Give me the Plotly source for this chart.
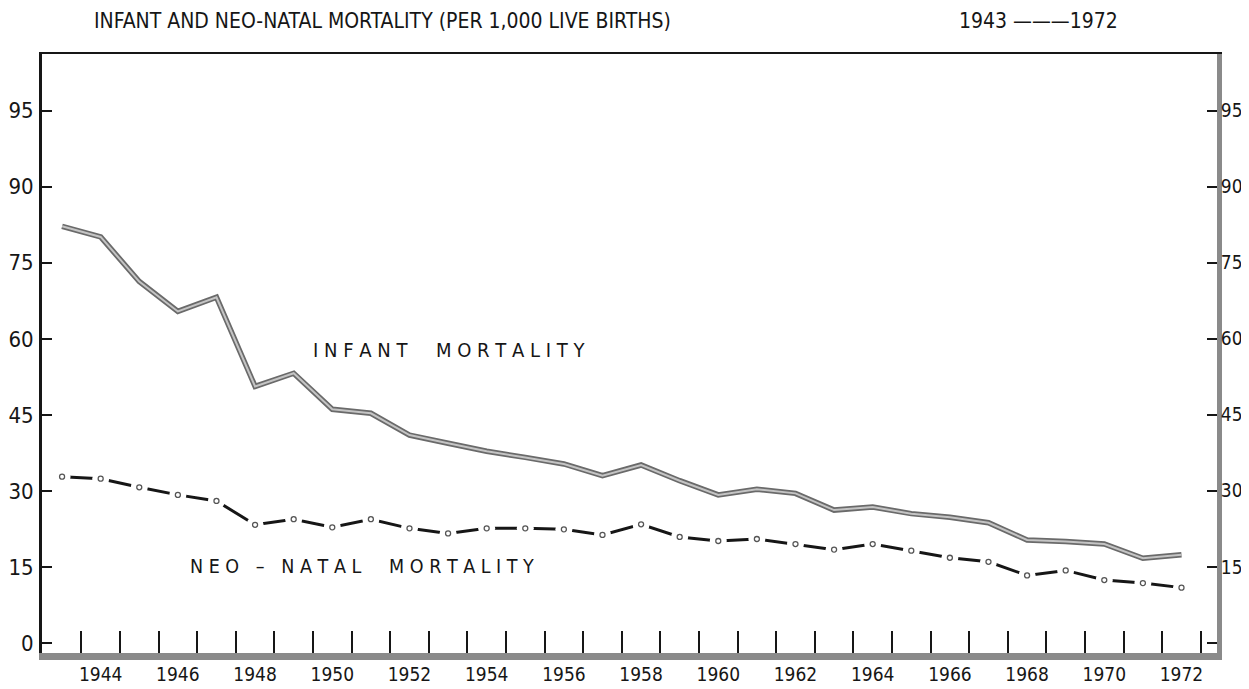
import plotly.graph_objects as go

# ---- data ----
years = list(range(1943, 1973))
infant = [82.2, 80.1, 71.3, 65.4, 68.2, 50.6, 53.2, 46.1, 45.3, 41.0,
          39.4, 37.8, 36.6, 35.3, 33.0, 35.1, 32.0, 29.2, 30.3, 29.5,
          26.2, 26.8, 25.5, 24.8, 23.7, 20.3, 20.0, 19.5, 16.7, 17.4]
neonatal = [32.8, 32.4, 30.7, 29.2, 28.0, 23.3, 24.4, 22.8, 24.4, 22.6,
            21.6, 22.6, 22.6, 22.4, 21.3, 23.4, 20.9, 20.1, 20.5, 19.5,
            18.4, 19.5, 18.2, 16.8, 16.0, 13.3, 14.3, 12.4, 11.8, 10.9]

x_label_years = list(range(1944, 1973, 2))
x_tick_positions = [y + 0.5 for y in years]
y_tick_vals = [0, 15, 30, 45, 60, 75, 90, 105]
y_tick_text_left = ["0", "15", "30", "45", "60", "75", "90", "95"]
y_tick_text_right = ["", "15", "30", "45", "60", "75", "90", "95"]

title_text = "INFANT AND NEO-NATAL MORTALITY (PER 1,000 LIVE BIRTHS)"
period_text = "1943 \u2014\u2014\u20141972"
infant_label = "INFANT  MORTALITY"
neo_label = "NEO \u2013 NATAL  MORTALITY"

def spaced(s):
    return " ".join(list(s))

FONT = "DejaVu Sans Condensed, DejaVu Sans, sans-serif"
INK = "#161616"
GREY = "#8a8a8a"

# the page body adds an 8px offset; size the figure so it fits the 1249x689 window
OFF = 8
W, H = 1249 - OFF, 689 - OFF
ML, MT = 42 - OFF, 54 - OFF
MR = W - (1217 - OFF)
MB = H - (653 - OFF)
XR = [1942.48, 1972.92]
YR = [-2.0, 116.2]

fig = go.Figure()

# infant mortality: textured grey band (dark edges, light core)
fig.add_trace(go.Scatter(x=years, y=infant, mode="lines",
                         line=dict(color="#6a6a6a", width=5.5),
                         hoverinfo="skip", showlegend=False))
fig.add_trace(go.Scatter(x=years, y=infant, mode="lines",
                         line=dict(color="#c4c4c4", width=2),
                         hoverinfo="skip", showlegend=False))

# neo-natal mortality: dashes between small open circles
fig.add_trace(go.Scatter(x=years, y=neonatal, mode="lines",
                         line=dict(color=INK, width=3),
                         hoverinfo="skip", showlegend=False))
fig.add_trace(go.Scatter(x=years, y=neonatal, mode="markers",
                         marker=dict(symbol="circle", size=17, color="white",
                                     line=dict(width=0)),
                         hoverinfo="skip", showlegend=False))
fig.add_trace(go.Scatter(x=years, y=neonatal, mode="markers",
                         marker=dict(symbol="circle-open", size=5, color="#555555",
                                     line=dict(width=1.3, color="#555555")),
                         hoverinfo="skip", showlegend=False))

# helper invisible traces so overlay axes are drawn
fig.add_trace(go.Scatter(x=[XR[0]], y=[YR[0]], xaxis="x2", yaxis="y2",
                         mode="markers", marker=dict(opacity=0),
                         hoverinfo="skip", showlegend=False))
fig.add_trace(go.Scatter(x=[XR[0]], y=[YR[0]], xaxis="x3", yaxis="y",
                         mode="markers", marker=dict(opacity=0),
                         hoverinfo="skip", showlegend=False))

tick_font = dict(family=FONT, size=19, color=INK)
ytick_font = dict(family=FONT, size=22, color=INK)
ytick_font_r = dict(family=FONT, size=19, color=INK)

fig.update_layout(
    template="none",
    width=W, height=H,
    margin=dict(l=ML, r=MR, t=MT, b=MB, autoexpand=False),
    paper_bgcolor="white", plot_bgcolor="white",
    showlegend=False,
    xaxis=dict(range=XR, tickmode="array", tickvals=x_tick_positions,
               ticks="inside", ticklen=22, tickwidth=2, tickcolor=INK,
               showticklabels=False, showline=True, linecolor=GREY,
               linewidth=7, showgrid=False, zeroline=False, automargin=False),
    xaxis2=dict(range=XR, overlaying="x", side="top", showline=True,
                linecolor=INK, linewidth=2, ticks="", showticklabels=False,
                showgrid=False, zeroline=False, automargin=False),
    xaxis3=dict(range=XR, overlaying="x", side="bottom", tickmode="array",
                tickvals=x_label_years, ticktext=[str(v) for v in x_label_years],
                ticks="", showline=False, showgrid=False, zeroline=False,
                tickfont=tick_font, ticklabelstandoff=8, automargin=False),
    yaxis=dict(range=YR, tickmode="array", tickvals=y_tick_vals,
               ticktext=y_tick_text_left, ticks="inside", ticklen=10,
               tickwidth=2, tickcolor=INK, showline=True, linecolor=INK,
               linewidth=3, showgrid=False, zeroline=False,
               tickfont=ytick_font, ticklabelstandoff=1, automargin=False),
    yaxis2=dict(range=YR, overlaying="y", side="right", tickmode="array",
                tickvals=y_tick_vals, ticktext=y_tick_text_right,
                ticks="inside", ticklen=10, tickwidth=2, tickcolor=INK,
                showline=True, linecolor=GREY, linewidth=5, showgrid=False,
                zeroline=False, tickfont=ytick_font_r, ticklabelstandoff=-5,
                automargin=False),
)

def px_to_paper_x(px):
    return (px - OFF - ML) / (W - ML - MR)

def px_to_paper_y(py):
    return (H - MB - (py - OFF)) / (H - MT - MB)

fig.add_annotation(text=title_text, xref="paper", yref="paper",
                   x=px_to_paper_x(92), y=px_to_paper_y(21),
                   xanchor="left", yanchor="middle", showarrow=False,
                   font=dict(family=FONT, size=21, color=INK))
fig.add_annotation(text=period_text, xref="paper", yref="paper",
                   x=px_to_paper_x(957), y=px_to_paper_y(21),
                   xanchor="left", yanchor="middle", showarrow=False,
                   font=dict(family=FONT, size=21, color=INK))
fig.add_annotation(text=spaced(infant_label), x=1949.45, y=57.8,
                   xanchor="left", yanchor="middle", showarrow=False,
                   font=dict(family=FONT, size=20, color=INK))
fig.add_annotation(text=spaced(neo_label), x=1946.25, y=15.0,
                   xanchor="left", yanchor="middle", showarrow=False,
                   font=dict(family=FONT, size=19.5, color=INK))

fig.write_html("out.html")
